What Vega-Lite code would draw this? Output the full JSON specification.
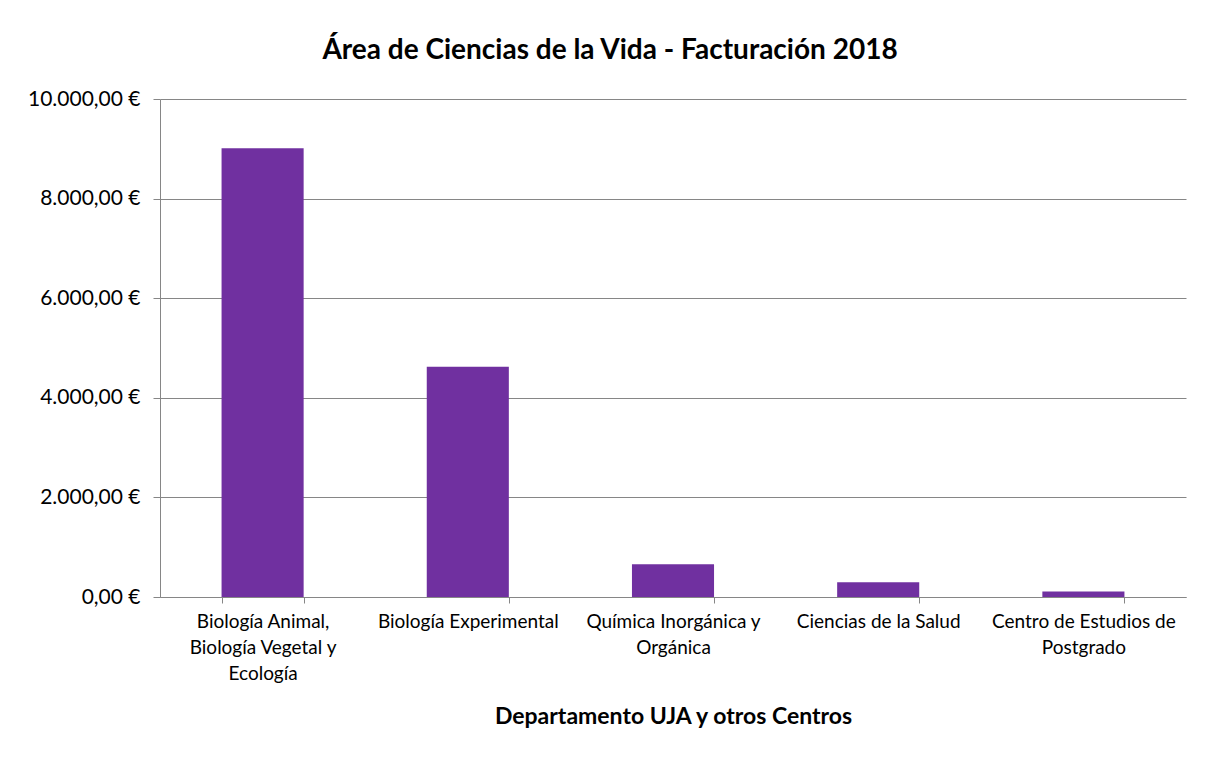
{
  "$schema": "https://vega.github.io/schema/vega-lite/v6.json",
  "autosize": "none",
  "width": 1026,
  "height": 498,
  "padding": {"left": 160, "top": 99, "right": 30, "bottom": 163},
  "background": "white",
  "title": {
    "text": "Área de Ciencias de la Vida  - Facturación 2018",
    "anchor": "middle",
    "frame": "group",
    "dx": -63,
    "offset": 23,
    "fontSize": 28,
    "fontWeight": "bold",
    "font": "Lato",
    "color": "#000000"
  },
  "data": {
    "values": [
      {"departamento": "Biología Animal,\nBiología Vegetal y\nEcología", "facturacion": 9010},
      {"departamento": "Biología Experimental", "facturacion": 4624},
      {"departamento": "Química Inorgánica y\nOrgánica", "facturacion": 658},
      {"departamento": "Ciencias de la Salud", "facturacion": 297},
      {"departamento": "Centro de Estudios de\nPostgrado", "facturacion": 110}
    ]
  },
  "mark": {"type": "bar", "color": "#7030A0"},
  "encoding": {
    "x": {
      "field": "departamento",
      "type": "nominal",
      "sort": null,
      "scale": {"paddingInner": 0.6, "paddingOuter": 0.3},
      "axis": {
        "title": "Departamento UJA y otros Centros",
        "titleFont": "Lato",
        "titleFontSize": 23,
        "titleFontWeight": "bold",
        "titleColor": "#000000",
        "titlePadding": 22,
        "labelAngle": 0,
        "labelFont": "Lato",
        "labelFontSize": 19,
        "labelColor": "#000000",
        "labelLineHeight": 26,
        "labelPadding": 9,
        "labelLimit": 0,
        "labelExpr": "split(datum.label, '\\n')",
        "tickBand": "extent",
        "tickSize": 6,
        "tickColor": "#868686",
        "domainColor": "#868686",
        "grid": false
      }
    },
    "y": {
      "field": "facturacion",
      "type": "quantitative",
      "scale": {"domain": [0, 10000], "nice": false},
      "axis": {
        "title": null,
        "values": [0, 2000, 4000, 6000, 8000, 10000],
        "labelExpr": "replace(replace(replace(format(datum.value, ',.2f'), ',', '_'), '.', ','), '_', '.') + ' €'",
        "labelFont": "Lato",
        "labelFontSize": 21,
        "labelColor": "#000000",
        "labelPadding": 13,
        "labelLimit": 0,
        "tickSize": 7,
        "tickColor": "#868686",
        "domainColor": "#868686",
        "gridColor": "#868686",
        "gridWidth": 1
      }
    }
  },
  "config": {
    "view": {"stroke": null}
  }
}
